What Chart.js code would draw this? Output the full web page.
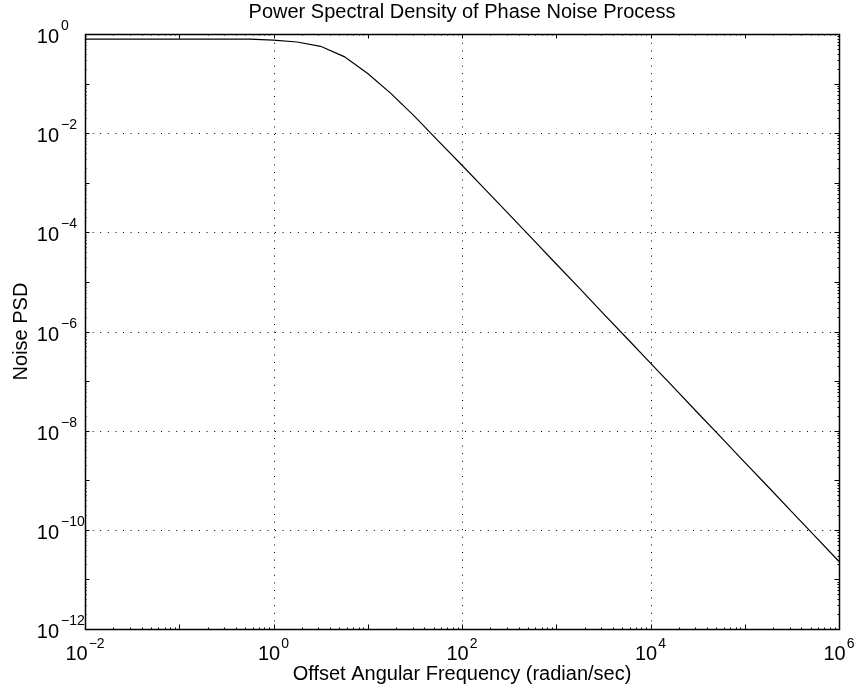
<!DOCTYPE html>
<html>
<head>
<meta charset="utf-8">
<script src="https://cdn.jsdelivr.net/npm/chart.js@4"></script>
<style>
  html, body { margin: 0; padding: 0; background: #fff; }
  canvas { display: block; }
</style>
</head>
<body>
<canvas id="myChart" width="855" height="689"></canvas>
<script>
// offset angular frequency (rad/s), quarter decade steps
const freqs = [0.01, 0.0178, 0.0316, 0.0562, 0.1, 0.178, 0.316, 0.562,
  1, 1.78, 3.16, 5.62, 10, 17.8, 31.6, 56.2,
  100, 178, 316, 562, 1000, 1780, 3160, 5620,
  1e4, 1.78e4, 3.16e4, 5.62e4, 1e5, 1.78e5, 3.16e5, 5.62e5, 1e6];
// noise PSD
const psd = [0.79, 0.79, 0.79, 0.79, 0.79, 0.79, 0.788, 0.785,
  0.75, 0.69, 0.565, 0.35, 0.16, 0.062, 0.0215, 0.0069,
  2.25e-3, 7.2e-4, 2.3e-4, 7.3e-5, 2.3e-5, 7.3e-6, 2.3e-6, 7.3e-7,
  2.3e-7, 7.3e-8, 2.3e-8, 7.3e-9, 2.3e-9, 7.3e-10, 2.3e-10, 7.3e-11, 2.3e-11];

const xTickExps = [-2, 0, 2, 4, 6];
const yTickExps = [-12, -10, -8, -6, -4, -2, 0];

const titleText = "Power Spectral Density of Phase Noise Process";
const xTitle = "Offset Angular Frequency (radian/sec)";
const yTitle = "Noise PSD";

const FONT = '"Liberation Sans", Arial, Helvetica, sans-serif';

function expLabel(e) {
  return e < 0 ? "\u2212" + Math.abs(e) : String(e);
}

// matlab-like axes: dotted grid, inward ticks, 10^n labels
const matlabAxes = {
  id: "matlabAxes",
  beforeDatasetsDraw(chart) {
    const ctx = chart.ctx;
    const a = chart.chartArea;
    const xs = chart.scales.x, ys = chart.scales.y;
    ctx.save();
    ctx.strokeStyle = "#000";
    ctx.lineWidth = 1;
    ctx.setLineDash([1, 6.6]);
    xTickExps.forEach(function(e) {
      const px = Math.round(xs.getPixelForValue(Math.pow(10, e))) + 0.5;
      if (px < a.left + 2 || px > a.right - 2) return;
      ctx.beginPath();
      ctx.moveTo(px, a.bottom);
      ctx.lineTo(px, a.top);
      ctx.stroke();
    });
    yTickExps.forEach(function(e) {
      const py = Math.round(ys.getPixelForValue(Math.pow(10, e))) + 0.5;
      if (py < a.top + 2 || py > a.bottom - 2) return;
      ctx.beginPath();
      ctx.moveTo(a.left, py);
      ctx.lineTo(a.right, py);
      ctx.stroke();
    });
    ctx.restore();
  },
  afterDraw(chart) {
    const ctx = chart.ctx;
    const a = chart.chartArea;
    const xs = chart.scales.x, ys = chart.scales.y;
    ctx.save();
    ctx.strokeStyle = "#000";

    // ticks on all four sides
    ctx.lineWidth = 1;
    ctx.beginPath();
    for (let e = -2; e <= 6; e++) {
      for (let m = 1; m <= 9; m++) {
        const v = m * Math.pow(10, e);
        if (v > 1e6) break;
        const len = m === 1 ? 4.5 : 1.5;
        const px = Math.round(xs.getPixelForValue(v)) + 0.5;
        ctx.moveTo(px, a.bottom); ctx.lineTo(px, a.bottom - len);
        ctx.moveTo(px, a.top); ctx.lineTo(px, a.top + len);
      }
    }
    for (let e = -12; e <= 0; e++) {
      for (let m = 1; m <= 9; m++) {
        const v = m * Math.pow(10, e);
        if (v > 1) break;
        const len = m === 1 ? 4.5 : 1.5;
        const py = Math.round(ys.getPixelForValue(v)) + 0.5;
        ctx.moveTo(a.left, py); ctx.lineTo(a.left + len, py);
        ctx.moveTo(a.right, py); ctx.lineTo(a.right - len, py);
      }
    }
    ctx.stroke();

    // frame
    ctx.lineWidth = 1.5;
    ctx.strokeRect(Math.round(a.left) + 0.5, Math.round(a.top) + 0.5,
      Math.round(a.right - a.left), Math.round(a.bottom - a.top));

    ctx.fillStyle = "#000";
    const baseFont = "20px " + FONT;
    const supFont = "14px " + FONT;

    // x tick labels
    ctx.textBaseline = "alphabetic";
    xTickExps.forEach(function(e) {
      const px = xs.getPixelForValue(Math.pow(10, e));
      ctx.font = baseFont;
      const w1 = ctx.measureText("10").width;
      ctx.font = supFont;
      const s = expLabel(e);
      const w2 = ctx.measureText(s).width;
      const x0 = px - (w1 + 1 + w2) / 2;
      ctx.font = baseFont;
      ctx.textAlign = "left";
      ctx.fillText("10", x0, a.bottom + 31);
      ctx.font = supFont;
      ctx.fillText(s, x0 + w1 + 1, a.bottom + 19);
    });

    // y tick labels
    yTickExps.forEach(function(e) {
      const py = ys.getPixelForValue(Math.pow(10, e));
      ctx.font = baseFont;
      ctx.textAlign = "right";
      ctx.fillText("10", 59, py + 9);
      ctx.font = supFont;
      ctx.textAlign = "left";
      ctx.fillText(expLabel(e), 61, py - 4);
    });

    // titles
    ctx.font = "20px " + FONT;
    ctx.textAlign = "center";
    const cx = (a.left + a.right) / 2;
    ctx.fillText(titleText, cx, 18);
    ctx.fillText(xTitle, cx, 680);
    ctx.save();
    ctx.translate(27, (a.top + a.bottom) / 2);
    ctx.rotate(-Math.PI / 2);
    ctx.fillText(yTitle, 0, 0);
    ctx.restore();

    ctx.restore();
  }
};

const points = [];
for (let i = 0; i < freqs.length; i++) {
  points.push({ x: freqs[i], y: psd[i] });
}

const ctx = document.getElementById("myChart").getContext("2d");
const myChart = new Chart(ctx, {
  type: "line",
  data: {
    datasets: [{
      label: "Noise PSD",
      data: points,
      borderColor: "#000",
      borderWidth: 1.2,
      pointRadius: 0,
      fill: false,
      tension: 0
    }]
  },
  options: {
    responsive: false,
    animation: false,
    devicePixelRatio: 1,
    layout: { padding: { left: 85, right: 16, top: 34, bottom: 60 } },
    plugins: {
      legend: { display: false },
      tooltip: { enabled: false },
      title: { display: false }
    },
    scales: {
      x: { type: "logarithmic", min: 0.01, max: 1e6, display: false },
      y: { type: "logarithmic", min: 1e-12, max: 1, display: false }
    }
  },
  plugins: [matlabAxes]
});
</script>
</body>
</html>
